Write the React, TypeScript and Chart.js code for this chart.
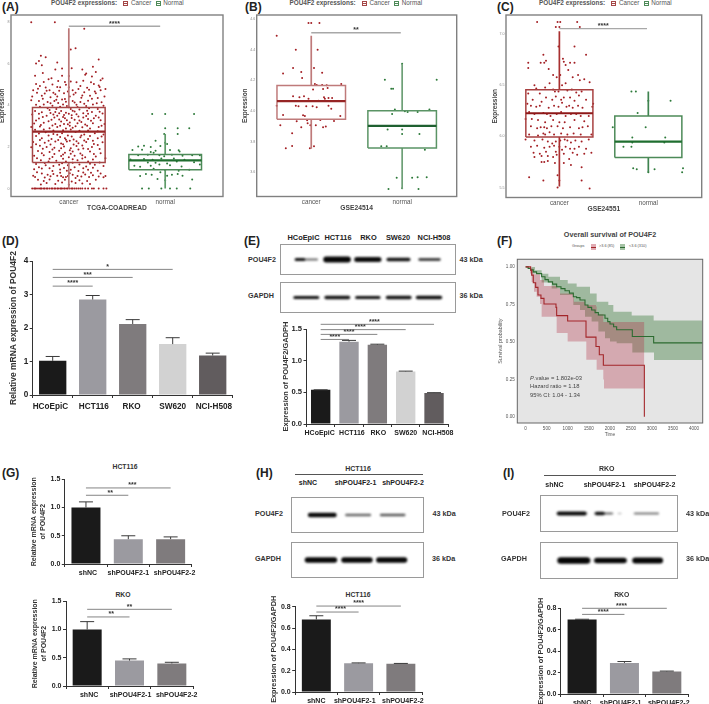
import React, { useEffect, useRef } from "react";
import { Chart, registerables } from "chart.js";
Chart.register(...registerables);

const SANS = "'Liberation Sans', Arial, sans-serif";

// ---------- panels A–C: tumour / normal expression (x, y pairs)
const boxLabels = ["cancer", "normal"];

const aCancerZeroX = [.62,.64,.65,.66,.68,.7,.71,.72,.74,.75,.77,.78,.8,.82,.83,.85,.86,.88,.89,.91,.92,.93,.95,.96,.98,.99,1.01,1.03,1.04,1.06,1.08,1.1,1.12,1.14,1.17,1.2,1.24,1.26,1.31,1.36,1.39];
const aCancerPts = [.61,7.98,.855,7.98,1.16,7.67,1.07,6.73,1.02,6.68,.71,6.38,.76,6.3,1.31,6.2,.69,6.12,.66,6,.88,6.05,.72,5.92,.86,5.72,.93,5.76,1.03,5.78,1.14,5.72,1.25,5.85,1.28,5.6,.73,5.55,.65,5.42,1.18,5.52,.93,5.42,1.17,5.46,1.24,5.38,1,5.4,.82,5.3,.79,5.25,1.33,5.2,.74,5.12,.89,5.16,.96,5.12,1.02,5.14,1.08,5.1,1.15,5.18,1.23,5.1,1.35,5.28,.66,5.02,.83,5,.97,4.98,1.26,5.02,1.31,4.95,1.32,4.88,.7,4.92,.76,4.85,.88,4.88,1,4.86,1.12,4.92,1.19,4.84,.63,4.72,.8,4.72,.9,4.7,1.04,4.72,1.1,4.78,1.21,4.74,1.33,4.72,1.38,4.78,.67,4.6,.75,4.56,.84,4.6,.95,4.58,1.07,4.6,1.16,4.62,1.28,4.58,.62,4.42,.72,4.46,.81,4.38,.88,4.42,.93,4.27,.87,4.26,.96,4.3,1.01,4.42,1.13,4.36,1.22,4.45,1.3,4.35,1.37,4.42,.61,4.24,.69,4.2,.78,4.16,.85,4.2,1.04,4.2,1.12,4.15,1.2,4.22,1.34,4.14,.66,4.02,.74,4.04,.83,3.98,.94,4.04,1,3.9,.98,3.96,1.08,4.02,1.18,3.96,1.25,4.04,1.36,3.97,.78,3.86,.87,3.82,.92,3.72,.86,3.67,.84,3.56,.88,3.5,1.02,3.82,1.11,3.8,1.21,3.86,1.3,3.82,.65,3.72,.72,3.66,.97,3.64,1.06,3.7,1.15,3.62,1.24,3.68,1.35,3.6,.62,3.56,.77,3.5,.94,3.44,1.03,3.52,1.1,3.46,1.18,3.48,1.28,3.5,.69,3.36,.82,3.3,.9,3.32,.98,3.28,1.06,3.3,1.13,3.2,1.2,3.34,1.33,3.28,.64,3.12,.74,3.16,.86,3.1,.95,3.1,1.01,3.02,1.09,3.14,1.17,3.08,1.25,3.14,1.37,3.1,.61,2.95,.7,2.98,.8,2.9,.88,2.96,.97,2.88,1.04,2.92,1.14,2.94,1.22,2.88,1.31,2.96,.76,2.7,.84,2.62,.93,2.66,.99,2.55,1.07,2.72,1.16,2.6,1.27,2.66,1.36,2.6,.66,2.52,.72,2.42,.82,2.38,.91,2.48,.96,2.42,.97,2.34,1.05,2.36,1.12,2.46,1.2,2.38,1.3,2.42,.63,2.24,.75,2.2,.86,2.26,.92,2.16,.98,2.26,1.1,2.18,1.18,2.24,1.26,2.14,1.35,2.22,.61,1.98,.7,2.06,.77,2,.85,1.96,.95,2.02,1.02,1.94,1.08,2.04,1.15,1.92,1.24,2,1.32,1.9,.68,1.8,.8,1.76,.9,1.82,.96,1.72,1.04,1.78,1.12,1.68,1.22,1.78,1.33,1.7,.64,1.58,.74,1.6,.83,1.52,.92,1.56,1,1.5,1.06,1.58,1.17,1.5,1.28,1.54,1.38,1.46,.71,1.36,.79,1.3,.87,1.34,.97,1.3,1.09,1.36,1.2,1.3,.66,1.18,.76,1.12,.84,1.08,.9,1.14,.99,1.12,1.11,1.16,1.18,1.06,1.27,1.14,1.36,1.08,.64,.93,.72,.96,.83,.84,.91,.92,.98,.86,1.02,.9,1.1,.84,1.2,.9,1.3,.86,.63,.62,.65,.55,.72,.72,.78,.66,.84,.7,.88,.62,.92,.6,.94,.54,.97,.56,.99,.6,1.04,.66,1.09,.6,1.13,.58,1.17,.68,1.21,.56,1.25,.64,1.31,.58,1.36,.54,1.38,.6,.68,.42,.74,.36,.8,.44,.89,.38,.96,.42,1.03,.34,1.11,.4,1.19,.36,1.28,.42,.71,.2,.86,.22,1,.18,1.14,.24];
const aCancerExtra = [.68,4.79,.77,4.69,.86,4.53,.91,4.86,.99,4.66,1.05,4.51,1.14,4.47,1.24,4.31,1.27,4.66,.73,4.31,.81,4.09,.89,4.11,.97,4.17,1.06,4.13,1.16,4.07,1.29,4.09,.7,3.93,.8,3.77,.91,3.93,1.04,3.73,1.09,3.91,1.19,3.73,1.32,3.69,.69,3.59,.81,3.63,.9,3.61,.95,3.53,1,3.59,1.08,3.57,1.2,3.59,1.31,3.41,.73,3.43,.85,3.41,.96,3.37,1.03,3.39,1.15,3.41,1.26,3.37,.66,3.27,.79,3.23,.92,3.22,1.01,3.17,1.11,3.27,1.23,3.25,.71,3.05,.83,3.03,.91,3.01,.99,3.09,1.07,2.99,1.19,3.01,1.34,3.01,.65,2.82,.74,2.84,.84,2.79,.94,2.8,1.02,2.83,1.11,2.78,1.2,2.79,1.3,2.75,.69,2.64,.79,2.55,.88,2.58,1.03,2.5,1.13,2.55,1.22,2.52,1.34,2.5,.7,2.33,.79,2.29,.89,2.33,1.01,2.3,1.08,2.27,1.16,2.31,1.25,2.3,.66,2.13,.81,2.11,.94,2.13,1.05,2.12,1.14,2.07,1.3,2.09,.73,1.91,.83,1.87,.92,1.93,1.01,1.84,1.1,1.87,1.2,1.9,.72,1.69,.85,1.66,.94,1.64,1.02,1.67,1.14,1.6,1.26,1.66,.67,1.45,.8,1.43,.94,1.43,1.04,1.41,1.14,1.44,1.25,1.4,.75,1.23,.93,1.22,1.04,1.24,1.22,1.19,1.32,1.25,.69,1.02,.8,.97,.95,.99,1.06,1.02,1.15,.97,1.25,1,.67,.78,.75,.53,.81,.59,.91,.76,1.01,.74,1.07,.51,1.15,.77,1.23,.76,1.33,.72,.77,.27,.93,.29,1.07,.27,1.22,.22];
const aNormalPts = [1.865,3.58,2,3.58,2.3,3.58,2,2.9,2.13,2.9,2.25,2.9,1.99,2.62,2.13,2.62,1.9,2.3,2,2.2,1.72,2.02,1.78,2.06,1.85,2,1.95,2.04,2.02,2.14,1.66,1.85,1.76,1.86,1.9,1.82,2.05,1.85,2.14,1.84,2.15,1.78,1.85,1.75,1.88,1.72,1.72,1.6,1.82,1.62,1.94,1.6,1.99,1.55,2.07,1.62,2.18,1.58,2.28,1.6,2.36,1.6,1.64,1.4,1.78,1.42,1.87,1.38,1.96,1.44,2.09,1.44,2.2,1.38,1.82,1.25,1.9,1.24,2.02,1.2,2.12,1.3,2.3,1.26,1.68,1.1,1.74,1.05,1.85,1.1,1.94,1.16,2.05,1.12,2.17,1.06,2.36,1.15,1.88,.95,2,.88,2.14,.85,2.25,.9,1.8,.7,1.86,.66,1.95,.78,2.02,.62,2.07,.66,2.13,.7,2.18,.62,1.74,.6,1.92,.46,2.28,.44,2,.4,1.76,0,1.83,0,1.96,0,2.05,0,2.12,0,2.26,0];

const bCancerPts = [.97,4.574,1,4.574,1.09,4.574,.62,4.49,.83,4.4,1.07,4.4,.8,4.28,1.03,4.28,.69,4.245,.89,4.254,1.12,4.25,.9,4.215,1.04,4.176,1.06,4.17,1.12,4.17,1.17,4.168,1.33,4.176,1.02,4.14,1.13,4.144,1.18,4.15,.8,4.097,.87,4.09,.92,4.097,.97,4.08,1.14,4.09,1.15,4.08,1.19,4.085,1.23,4.085,1.08,4.067,.83,4.034,.86,4.032,.945,4.032,1.015,4.032,1.06,4.024,1.19,4.034,.62,4.034,.69,3.974,.91,3.972,.93,3.968,1.22,4.015,1.32,3.968,.84,3.933,.955,3.94,1.1,3.942,1.25,3.935,.66,3.908,.96,3.92,.89,3.895,.99,3.908,1.05,3.908,1.13,3.895,1.16,3.9,.79,3.856,.79,3.772,.72,3.757,.985,3.757,1.03,3.77];
const bNormalPts = [1.81,4.204,2.38,4.204,1.88,4.146,1.9,4.146,2,4.308,1.92,4.01,2.03,3.998,2.06,3.994,2.17,3.994,2.3,4.01,1.89,3.98,1.84,3.88,2,3.88,2,3.85,2.19,3.85,1.77,3.77,1.83,3.77,2.25,3.748,1.94,3.565,2.11,3.565,2.17,3.568,2.27,3.568,1.85,3.492,2,3.497,2.18,3.492];

const cCancerPts = [.75,7.12,.98,7.12,1.2,7.12,.96,7.07,1,7.07,1.01,7.12,1.23,7.07,.99,6.88,1.17,6.88,.82,6.8,1.3,6.8,.65,6.72,.65,6.67,.79,6.72,.83,6.72,.85,6.74,1.04,6.76,1.05,6.73,1.07,6.7,1.12,6.72,1.17,6.72,.88,6.66,.93,6.6,.97,6.58,1.01,6.6,1.1,6.65,1.15,6.58,1.21,6.6,1.23,6.55,1.28,6.56,1.34,6.53,.72,6.5,.74,6.47,.78,6.42,.84,6.48,.89,6.52,.93,6.46,.95,6.44,.99,6.44,1.03,6.5,1.07,6.52,1.09,6.45,1.14,6.46,1.19,6.43,1.25,6.44,.65,6.42,.7,6.36,.8,6.34,.85,6.38,.92,6.36,.96,6.39,1.02,6.36,1.05,6.38,1.12,6.38,1.17,6.35,1.22,6.4,1.3,6.36,1.38,6.32,.64,6.32,.68,6.3,.74,6.29,.78,6.3,.88,6.28,.94,6.3,.99,6.29,1.03,6.33,1.08,6.29,1.11,6.3,1.15,6.28,1.21,6.3,1.26,6.28,1.37,6.29,.66,6.24,.72,6.22,.82,6.23,.86,6.22,.9,6.2,.97,6.22,1.02,6.24,1.07,6.2,1.13,6.22,1.19,6.22,1.24,6.2,1.33,6.2,.62,6.17,.69,6.17,.76,6.16,.84,6.14,.93,6.16,1,6.14,1.06,6.14,1.17,6.16,1.28,6.15,.68,6.1,.75,6.08,.79,6.09,.83,6.09,.86,6.08,.91,6.1,.98,6.1,1.04,6.08,1.12,6.09,1.22,6.08,1.26,6.09,1.32,6.1,.66,6.02,.76,6.01,.82,6.03,.84,6.02,.89,6.04,.94,6.02,1.02,6.03,1.09,6.02,1.16,6.03,1.24,6.02,1.36,6.02,.62,5.97,.72,5.96,.81,5.97,.87,5.95,.92,5.93,.96,5.95,1.01,5.96,1.06,5.97,1.09,5.96,1.13,5.94,1.18,5.96,1.25,5.95,1.33,5.97,.68,5.9,.75,5.91,.83,5.89,.89,5.9,.94,5.91,1,5.9,1.03,5.87,1.07,5.9,1.12,5.88,1.17,5.88,1.22,5.9,1.3,5.88,.71,5.84,.78,5.83,.85,5.85,.96,5.85,1.05,5.83,1.15,5.84,1.28,5.83,1.36,5.84,.72,5.8,.8,5.81,.87,5.81,.93,5.8,.97,5.82,1.11,5.78,1.2,5.82,.8,5.75,.83,5.75,.87,5.76,.95,5.74,1.05,5.74,1.13,5.72,1.25,5.7,.66,5.6,.82,5.57,.98,5.62,1,5.57,1.25,5.57,1.34,5.49,.98,5.5];
const cNormalPts = [1.81,6.44,1.86,6.44,2,6.35,2.25,6.35,1.88,6.23,1.6,6.09,1.97,6.09,1.82,5.99,2.19,5.99,1.82,5.94,2.18,5.94,1.72,5.9,1.81,5.9,1.83,5.69,1.87,5.68,2,5.65,2.07,5.68,2.39,5.69,2.38,5.65];

// box statistics: low whisker, Q1, median, Q3, high whisker
const aCancerBox = [0, 1.25, 2.73, 3.89, 7.7];
const aNormalBox = [0, .9, 1.35, 1.63, 2.62];
const bCancerBox = [3.755, 3.946, 4.065, 4.166, 4.49];
const bNormalBox = [3.492, 3.759, 3.903, 4.002, 4.308];
const cCancerBox = [5.51, 5.994, 6.227, 6.456, 7.03];
const cNormalBox = [5.65, 5.795, 5.95, 6.2, 6.44];

// ---------- bar panels
const cellLines = ["HCoEpiC", "HCT116", "RKO", "SW620", "NCI-H508"];
const shLabels = ["shNC", "shPOU4F2-1", "shPOU4F2-2"];
const dValues = [1.02, 2.85, 2.12, 1.52, 1.18];
const dErrTops = [1.15, 2.97, 2.25, 1.71, 1.25];
const eValues = [.54, 1.3, 1.25, .83, .49];
const eErrTops = [.54, 1.32, 1.26, .835, .495];
const gTopValues = [1, .44, .44];
const gTopErrTops = [1.1, .5, .48];
const gBotValues = [1, .45, .4];
const gBotErrTops = [1.14, .48, .42];
const hValues = [.68, .27, .265];
const hErrTops = [.715, .273, .268];
const iValues = [.695, .29, .21];
const iErrTops = [.698, .303, .214];
const greys = ["#1a1a1a", "#9b9aa0", "#7f7b7d", "#d2d2d2", "#615c5e"];

// ---------- panel F: Kaplan-Meier (time, survival)
const kmTimes = [0, 500, 1000, 1500, 2000, 2500, 3000, 3500, 4000];
const redCurve = [[0,1],[119,.978],[143,.945],[182,.894],[238,.863],[293,.812],[364,.79],[436,.752],[721,.73],[737,.675],[998,.639],[1434,.531],[1671,.469],[1750,.414],[1846,.343],[2820,.343],[2820,0]];
const redUpper = [[0,1],[103,.989],[182,.951],[341,.912],[436,.872],[752,.856],[816,.823],[1133,.812],[1148,.768],[1410,.746],[1671,.735],[1687,.684],[1845,.633],[2820,.633]];
const redLower = [[0,1],[103,.956],[143,.9],[198,.834],[261,.801],[341,.752],[380,.668],[737,.558],[998,.502],[1441,.381],[1687,.314],[1845,.248],[1861,.188],[2820,.188]];
const greenCurve = [[0,1],[60,.99],[120,.98],[182,.967],[260,.955],[380,.934],[460,.915],[539,.9],[640,.885],[737,.867],[840,.855],[935,.841],[1040,.825],[1133,.801],[1210,.795],[1291,.779],[1410,.746],[1480,.73],[1568,.712],[1650,.695],[1727,.679],[1885,.657],[1950,.635],[2004,.619],[2090,.6],[2162,.58],[2480,.58],[2534,.535],[3041,.493],[4206,.493]];
const greenUpper = [[0,1],[222,.978],[380,.955],[539,.934],[816,.912],[1000,.89],[1212,.867],[1529,.823],[1687,.768],[1964,.746],[2083,.701],[2519,.675],[3041,.642],[4206,.642]];
const greenLower = [[0,1],[143,.956],[380,.896],[618,.856],[816,.812],[1133,.746],[1291,.712],[1410,.668],[1568,.635],[1727,.569],[1885,.524],[2004,.502],[2162,.491],[2534,.429],[3049,.378],[4206,.378]];

// ---------- blots: [lane start %, lane end %, band thickness, colour]
const ePou = [[8.7,13.1,3,"#111"],[13.1,20.7,2,"#666"],[26,38.4,6,"#060606"],[43.5,56.3,5,"#0c0c0c"],[61.6,73.4,3.5,"#111"],[79.7,91,2.6,"#222"]];
const eGapdh = [[8,21.1,3.2,"#111"],[25.9,38.8,3.4,"#111"],[43.5,56.3,3.2,"#111"],[61.2,74.1,3.4,"#111"],[78.5,91.6,3.6,"#0b0b0b"]];
const hPou = [[13.8,32.4,4.5,"#0a0a0a"],[41.5,59.5,2.4,"#666"],[68,85.7,2.4,"#555"]];
const hGapdh = [[11.8,32.4,5.5,"#070707"],[39.7,59.5,5.5,"#070707"],[66.3,85.9,5.5,"#070707"]];
const iPou = [[13.1,32.1,4.2,"#0a0a0a"],[40.7,45.6,3.5,"#111"],[45.6,52.2,2.2,"#666"],[56.9,58.6,1.5,"#bbb"],[69,86,2.2,"#777"]];
const iGapdh = [[14.4,33.8,6.5,"#050505"],[41,61,5.5,"#070707"],[69.3,87.5,6,"#050505"]];

const pairs = (flat) => {
  const out = [];
  for (let i = 0; i < flat.length; i += 2) out.push({ x: flat[i], y: flat[i + 1] });
  return out;
};
const xy = (rows) => rows.map(([x, y]) => ({ x, y }));

function makeOverlay(s) {
  return {
    id: "overlay",
    beforeDraw(chart) {
      if (!s.bg) return;
      const { ctx, chartArea: a } = chart;
      ctx.save();
      ctx.fillStyle = s.bg;
      ctx.fillRect(a.left, a.top, a.right - a.left, a.bottom - a.top);
      ctx.restore();
    },
    afterDatasetsDraw(chart) {
      const { ctx, chartArea: a, scales } = chart;
      const sx = scales.x, sy = scales.y;
      ctx.save();
      (s.errTops || []).forEach((top, i) => {
        const x = sx.getPixelForValue(i), y0 = sy.getPixelForValue(s.values[i]), y1 = sy.getPixelForValue(top);
        ctx.strokeStyle = "#3a3a3a";
        ctx.lineWidth = 1;
        ctx.beginPath();
        ctx.moveTo(x, y0); ctx.lineTo(x, y1);
        ctx.moveTo(x - 7, y1); ctx.lineTo(x + 7, y1);
        ctx.stroke();
      });
      (s.brackets || []).forEach(([x0, x1, v, label, dx]) => {
        const y = sy.getPixelForValue(v), p0 = sx.getPixelForValue(x0), p1 = sx.getPixelForValue(x1);
        ctx.strokeStyle = s.bracketColor || "#666";
        ctx.lineWidth = s.bracketWidth || 0.8;
        ctx.beginPath(); ctx.moveTo(p0, y); ctx.lineTo(p1, y); ctx.stroke();
        ctx.fillStyle = "#333";
        ctx.font = `bold 7px ${SANS}`;
        ctx.textAlign = "center";
        ctx.textBaseline = "middle";
        ctx.fillText(label, (p0 + p1) / 2 + (dx || 0), y - 2.6);
      });
      if (s.frame) {
        ctx.strokeStyle = s.frame;
        ctx.lineWidth = s.frameWidth || 1.4;
        ctx.strokeRect(a.left, a.top, a.right - a.left, a.bottom - a.top);
      }
      ctx.restore();
    },
  };
}

const font = (size, weight) => ({ size, weight, family: SANS });

function geom(s) {
  const lh = s.yTitleSize * (s.yTitleLH || 1.2);
  const lines = Array.isArray(s.yTitle) ? s.yTitle.length : 1;
  const wantLeft = s.titleX - (lines * lh) / 2;
  const left = Math.floor(wantLeft);
  const T = s.padTop ?? 8;
  const top = Math.floor(s.plot.t - T);
  const W = s.plot.l - left;
  const topPad = s.plot.t - top;
  const R = 12;
  const H = s.bottomH;
  const width = Math.ceil(W + s.plot.r - s.plot.l + R);
  const height = Math.ceil(topPad + s.plot.b - s.plot.t + H);
  return { left, top, W, H, topPad, R: width - W - (s.plot.r - s.plot.l), width, height, lh, titleInset: wantLeft - left };
}

function baseScales(s, g) {
  return {
    y: {
      min: s.yMin, max: s.yMax,
      afterFit: (sc) => { sc.width = g.W; },
      ticks: {
        stepSize: s.yStep, includeBounds: false, padding: s.yPad ?? 1.5,
        color: s.yTickColor, font: font(s.yTickSize, s.tickWeight),
        callback: (v) => Number(v).toFixed(s.yDec),
      },
      title: {
        display: true, text: s.yTitle, color: s.titleColor || "#333", padding: { top: g.titleInset, bottom: 0 },
        font: { ...font(s.yTitleSize, s.yTitleWeight ?? "bold"), lineHeight: s.yTitleLH || 1.2 },
      },
    },
  };
}

function boxConfig(s) {
  const g = geom(s);
  const scat = (data, color) => ({ type: "scatter", data, pointRadius: 1, pointBackgroundColor: color, pointBorderWidth: 0, showLine: false });
  const seg = (data, color, w) => ({ type: "scatter", data, showLine: true, borderColor: color, borderWidth: w, pointRadius: 0, fill: false });
  const box = (cx, st, c) => {
    const [lo, q1, med, q3, hi] = st;
    const hw = s.halfW;
    return [
      seg([{ x: cx - hw, y: med }, { x: cx + hw, y: med }], c.med, 2.2),
      seg([{ x: cx - hw, y: q1 }, { x: cx + hw, y: q1 }, { x: cx + hw, y: q3 }, { x: cx - hw, y: q3 }, { x: cx - hw, y: q1 }], c.box, 1.5),
      seg([{ x: cx, y: q3 }, { x: cx, y: hi }], c.wh, 1.7),
      seg([{ x: cx, y: lo }, { x: cx, y: q1 }], c.wh, 1.7),
    ];
  };
  const scales = baseScales(s, g);
  scales.x = {
    type: "linear", min: .4, max: 2.6,
    afterFit: (sc) => { sc.height = g.H; },
    grid: { display: false, drawTicks: false }, border: { display: false },
    ticks: {
      stepSize: 1, includeBounds: false, padding: 1.5, color: "#555", font: font(6.3, "normal"),
      autoSkip: false, maxRotation: 0,
      callback: (v) => boxLabels[v - 1] ?? "",
    },
    title: { display: true, text: s.xTitle, color: "#444", padding: 0, font: font(6.7, "bold") },
  };
  scales.y.grid = { display: false, drawTicks: false };
  scales.y.border = { display: false };
  return {
    type: "scatter",
    data: {
      datasets: [
        ...box(1, s.cancerBox, s.red),
        ...box(2, s.normalBox, s.green),
        scat(s.cancerPts, "#a31f24"),
        scat(s.normalPts, "#2d7a3a"),
      ],
    },
    options: chartOptions(s, g, scales),
    plugins: [makeOverlay(s)],
  };
}

function chartOptions(s, g, scales) {
  return {
    responsive: false, animation: false, maintainAspectRatio: false,
    layout: { padding: { top: g.topPad, right: g.R, left: 0, bottom: 0 } },
    plugins: { legend: { display: false }, tooltip: { enabled: false } },
    scales,
  };
}

// nudges a tick label sideways the way the figure's hand-set labels sit, with non-breaking spaces
function nudged(label, shift, size) {
  const n = Math.round((2 * Math.abs(shift)) / (0.278 * size));
  const pad = "\u00A0".repeat(n);
  return shift >= 0 ? pad + label : label + pad;
}

function barConfig(s) {
  const g = geom(s);
  const scales = baseScales(s, g);
  scales.y.grid = { drawOnChartArea: false, drawTicks: true, tickLength: 3, color: "#333" };
  scales.y.border = { color: "#333", width: 1 };
  scales.x = {
    type: "category",
    afterFit: (sc) => { sc.height = g.H; },
    grid: { drawOnChartArea: false, drawTicks: true, tickLength: 3, color: "#333" },
    border: { color: "#333", width: 1 },
    ticks: {
      padding: s.xPad ?? 2, color: "#222", font: font(s.xTickSize, "bold"), autoSkip: false, maxRotation: 0,
      callback: (_v, i) => nudged(s.cats[i], (s.labelShift || [])[i] || 0, s.xTickSize),
    },
  };
  return {
    type: "bar",
    data: {
      labels: s.cats,
      datasets: [{ data: s.values, backgroundColor: s.colors, barPercentage: s.barFrac, categoryPercentage: 1, borderWidth: 0 }],
    },
    options: chartOptions(s, g, scales),
    plugins: [makeOverlay(s)],
  };
}

function kmConfig(s) {
  const g = geom(s);
  const scales = baseScales(s, g);
  scales.y.grid = { display: false, drawTicks: false };
  scales.y.border = { display: false };
  scales.x = {
    type: "linear", min: -198, max: 4206,
    afterFit: (sc) => { sc.height = g.H; },
    afterBuildTicks: (sc) => { sc.ticks = kmTimes.map((value) => ({ value })); },
    grid: { display: false, drawTicks: false }, border: { display: false },
    ticks: { padding: 2.5, color: "#555", font: font(4.6, "normal"), autoSkip: false, maxRotation: 0, callback: (v) => String(v) },
    title: { display: true, text: "Time", color: "#555", padding: 0, font: font(4.8, "normal") },
  };
  const line = (rows, color) => ({ type: "scatter", data: xy(rows), showLine: true, stepped: true, borderColor: color, borderWidth: 1.1, pointRadius: 0, fill: false });
  const band = (rows, fill, toNext) => ({ type: "scatter", data: xy(rows), showLine: true, stepped: true, borderWidth: 0, borderColor: "transparent", pointRadius: 0, fill: toNext ? "+1" : false, backgroundColor: fill });
  return {
    type: "scatter",
    data: {
      datasets: [
        line(redCurve, "#a3262a"),
        line(greenCurve, "#2c6b30"),
        band(redUpper, "rgba(178,44,66,0.32)", true),
        band(redLower, "rgba(178,44,66,0.32)", false),
        band(greenUpper, "rgba(56,120,56,0.4)", true),
        band(greenLower, "rgba(56,120,56,0.4)", false),
      ],
    },
    options: chartOptions(s, g, scales),
    plugins: [makeOverlay(s)],
  };
}

function blotConfig(bands) {
  return {
    type: "scatter",
    data: {
      datasets: bands.map(([a, b, w, c]) => ({
        data: [{ x: a, y: 50 }, { x: b, y: 50 }],
        showLine: true, borderColor: c, borderWidth: w, borderCapStyle: "round", pointRadius: 0,
      })),
    },
    options: {
      responsive: false, animation: false,
      plugins: { legend: { display: false }, tooltip: { enabled: false } },
      scales: { x: { display: false, min: 0, max: 100 }, y: { display: false, min: 0, max: 100 } },
    },
  };
}

function Plot({ spec, build }) {
  const ref = useRef(null);
  const g = geom(spec);
  useEffect(() => {
    const c = new Chart(ref.current, build(spec));
    return () => c.destroy();
  }, []);
  return <canvas ref={ref} width={g.width} height={g.height} style={{ position: "absolute", left: g.left, top: g.top, width: g.width, height: g.height }} />;
}

function Blot({ x, y, w, h, bands }) {
  const ref = useRef(null);
  useEffect(() => {
    const c = new Chart(ref.current, blotConfig(bands));
    return () => c.destroy();
  }, []);
  return (
    <div style={{ position: "absolute", left: x, top: y, width: w, height: h, border: "1px solid #9a9a9a", background: "#fff", overflow: "hidden", boxSizing: "border-box" }}>
      <canvas ref={ref} width={w - 2} height={h - 2} style={{ display: "block", width: w - 2, height: h - 2, filter: "blur(1px)" }} />
    </div>
  );
}

function T({ x, y, s, size = 8, bold = true, color = "#222", anchor = "c", italic = false }) {
  const tx = anchor === "c" ? "-50%" : anchor === "r" ? "-100%" : "0";
  return (
    <div style={{ position: "absolute", left: x, top: y, transform: `translate(${tx},-50%)`, fontFamily: SANS, fontSize: size, fontWeight: bold ? 700 : 400, fontStyle: italic ? "italic" : "normal", color, lineHeight: 1, whiteSpace: "nowrap" }}>{s}</div>
  );
}

function Key({ x, y, c, w = 5, h = 5, fill = "transparent" }) {
  return (
    <div style={{ position: "absolute", left: x, top: y - h / 2, width: w, height: h, boxSizing: "border-box", border: `1px solid ${c}`, background: fill }}>
      <div style={{ position: "absolute", left: 0, right: 0, top: h / 2 - 1.5, height: 1, background: c }} />
    </div>
  );
}

function Line({ x1, x2, y, c = "#555" }) {
  return <div style={{ position: "absolute", left: x1, top: y, width: x2 - x1, height: 1, background: c }} />;
}

const redA = { box: "#a54646", wh: "#bb7777", med: "#962525" };
const greenA = { box: "#4d8a58", wh: "#5f9b69", med: "#1f6e2f" };
const redB = { box: "#bf7a7a", wh: "#bf7a7a", med: "#962525" };
const greenB = { box: "#5a9465", wh: "#6ea077", med: "#1f6030" };
const redC = { box: "#a84040", wh: "#a83030", med: "#8e1818" };
const greenC = { box: "#4d8a58", wh: "#3f8350", med: "#1f6e2f" };

const boxCommon = { yTitle: "Expression", yTitleSize: 6.4, titleColor: "#444", yTickSize: 3.6, yTickColor: "#888", tickWeight: "normal", frame: "#808080", halfW: .377, bottomH: 15.5, padTop: 2, bracketColor: "#a8a8a8", bracketWidth: 1.4 };

const specA = { ...boxCommon, plot: { l: 11, t: 13, r: 223, b: 196 }, titleX: 2.7, yMin: -.38, yMax: 8.33, yStep: 2, yDec: 0, xTitle: "TCGA-COADREAD", cancerPts: [...pairs(aCancerPts), ...pairs(aCancerExtra), ...aCancerZeroX.map((x) => ({ x, y: 0 }))], normalPts: pairs(aNormalPts), cancerBox: aCancerBox, normalBox: aNormalBox, red: redA, green: greenA, brackets: [[1, 1.948, 7.79, "****"]] };
const specB = { ...boxCommon, plot: { l: 256.7, t: 13, r: 456.7, b: 196 }, titleX: 245.7, yMin: 3.443, yMax: 4.626, yStep: .2, yDec: 1, xTitle: "GSE24514", cancerPts: pairs(bCancerPts), normalPts: pairs(bNormalPts), cancerBox: bCancerBox, normalBox: bNormalBox, red: redB, green: greenB, brackets: [[1, 1.985, 4.51, "**"]] };
const specC = { ...boxCommon, plot: { l: 506, t: 13.3, r: 701.7, b: 196.7 }, titleX: 495, yMin: 5.403, yMax: 7.188, yStep: .5, yDec: 1, xTitle: "GSE24551", cancerPts: pairs(cCancerPts), normalPts: pairs(cNormalPts), cancerBox: cCancerBox, normalBox: cNormalBox, red: redC, green: greenC, brackets: [[1, 1.985, 7.055, "****"]] };

const barCommon = { yMin: 0, yTickColor: "#222", tickWeight: "bold", bottomH: 16, padTop: 10 };
const specD = { ...barCommon, plot: { l: 32.7, t: 261, r: 232.7, b: 394.7 }, titleX: 13.3, yMax: 4, yStep: 1, yDec: 0, yTitle: "Relative mRNA expression of POU4F2", yTitleSize: 8.5, yTickSize: 8.2, xTickSize: 8.2, xPad: 4, labelShift: [-2, 1, -1, 0, 1.3], cats: cellLines, values: dValues, errTops: dErrTops, colors: greys, barFrac: .683, brackets: [[0, 1, 3.25, "****"], [0, 2, 3.51, "***", -5], [0, 3, 3.75, "*", -5]] };
const specE = { ...barCommon, plot: { l: 306.5, t: 329, r: 448.2, b: 423.3 }, titleX: 285.7, yMax: 1.5, yStep: .5, yDec: 1, yTitle: "Expression of POU4F2/GADPH", yTitleSize: 7.5, yTickSize: 7.6, xTickSize: 7, xPad: 2, labelShift: [-1.2, 2.7, .7, 0, 4], cats: cellLines, values: eValues, errTops: eErrTops, colors: greys, barFrac: .683, brackets: [[0, 1, 1.335, "****"], [0, 2, 1.415, "****"], [0, 3, 1.49, "****", -3], [0, 4, 1.574, "****", -3]] };
const specF = { plot: { l: 517.3, t: 257.3, r: 702.7, b: 422.3 }, titleX: 500.7, yMin: -.042, yMax: 1.051, yStep: .25, yDec: 2, yTitle: "Survival probability", yTitleSize: 5.4, yTitleWeight: "normal", titleColor: "#555", yTickSize: 4.6, yTickColor: "#555", tickWeight: "normal", yPad: 2.5, bottomH: 15, padTop: 3, bg: "#e5e5e5", frame: "#666666", frameWidth: 1 };
const shCommon = { ...barCommon, yTickSize: 7, xTickSize: 7, cats: shLabels, colors: greys, barFrac: .685, padTop: 15, bottomH: 14 };
const specGTop = { ...shCommon, plot: { l: 64.8, t: 479.3, r: 191.8, b: 564 }, titleX: 38.8, yMax: 1.5, yStep: .5, yDec: 1, yTitle: ["Relative mRNA expression", "of POU4F2"], yTitleSize: 7, yTitleLH: 1.3, labelShift: [1.8, 0, 4.3], values: gTopValues, errTops: gTopErrTops, brackets: [[0, 1, 1.217, "**", 3], [0, 2, 1.347, "***", 4]] };
const specGBot = { ...shCommon, plot: { l: 66, t: 601.3, r: 193, b: 686 }, titleX: 39.8, yMax: 1.5, yStep: .5, yDec: 1, yTitle: ["Relative mRNA expression", "of POU4F2"], yTitleSize: 7, yTitleLH: 1.3, labelShift: [1.8, 1, 5], values: gBotValues, errTops: gBotErrTops, brackets: [[0, 1, 1.223, "**", 3], [0, 2, 1.358, "**"]] };
const specH = { ...shCommon, plot: { l: 295.2, t: 606.7, r: 422, b: 691.7 }, titleX: 274, yMax: .8, yStep: .2, yDec: 1, yTitle: "Expression of POU4F2/GAPDH", yTitleSize: 7.3, labelShift: [0, -3.5, 1.8], values: hValues, errTops: hErrTops, brackets: [[0, 1, .75, "****", 3], [0, 2, .806, "****"]] };
const specI = { ...shCommon, plot: { l: 560.9, t: 608.3, r: 688, b: 693.3 }, titleX: 540.7, yMax: .8, yStep: .2, yDec: 1, yTitle: "Expression of POU4F2/GAPDH", yTitleSize: 7.3, labelShift: [0, -3.5, 2], values: iValues, errTops: iErrTops, brackets: [[0, 1, .743, "****"], [0, 2, .8, "****", -3]] };

function BoxLegend({ x0 }) {
  return (
    <>
      <T x={x0} y={3.2} s="POU4F2 expressions:" size={6.4} color="#555" anchor="l" />
      <Key x={x0 + 72} y={3.2} c="#a54646" />
      <T x={x0 + 80} y={3.2} s="Cancer" size={6.3} bold={false} color="#555" anchor="l" />
      <Key x={x0 + 104.7} y={3.2} c="#4d8a58" />
      <T x={x0 + 112.3} y={3.2} s="Normal" size={6.3} bold={false} color="#555" anchor="l" />
    </>
  );
}

export default function App() {
  return (
    <div style={{ position: "absolute", left: 0, top: 0, width: 709, height: 704, overflow: "hidden", background: "#fff", filter: "blur(0.4px)" }}>
      <T x={2} y={7} s="(A)" size={12} anchor="l" />
      <T x={245} y={7} s="(B)" size={12} anchor="l" />
      <T x={497} y={7} s="(C)" size={12} anchor="l" />
      <T x={2} y={240.7} s="(D)" size={12} anchor="l" />
      <T x={244} y={240.7} s="(E)" size={12} anchor="l" />
      <T x={497} y={240.7} s="(F)" size={12} anchor="l" />
      <T x={2} y={472.7} s="(G)" size={12} anchor="l" />
      <T x={256} y={472.7} s="(H)" size={12} anchor="l" />
      <T x={503} y={472.7} s="(I)" size={12} anchor="l" />

      <BoxLegend x0={51} />
      <BoxLegend x0={289.5} />
      <BoxLegend x0={539} />
      <Plot spec={specA} build={boxConfig} />
      <Plot spec={specB} build={boxConfig} />
      <Plot spec={specC} build={boxConfig} />

      <Plot spec={specD} build={barConfig} />

      {cellLines.map((c, i) => (
        <T key={c} x={[303.5, 338, 368.5, 398, 434][i]} y={237.5} s={c} size={7.4} />
      ))}
      <Blot x={280} y={244} w={176} h={31} bands={ePou} />
      <Blot x={280} y={282} w={176} h={31} bands={eGapdh} />
      <T x={248} y={260} s="POU4F2" size={7.2} color="#333" anchor="l" />
      <T x={248} y={295.5} s="GAPDH" size={7.2} color="#333" anchor="l" />
      <T x={459.5} y={260} s="43 kDa" size={7.2} color="#333" anchor="l" />
      <T x={459.5} y={295.5} s="36 kDa" size={7.2} color="#333" anchor="l" />
      <Plot spec={specE} build={barConfig} />

      <T x={610} y={235} s="Overall survival of POU4F2" size={7.2} color="#444" />
      <T x={572} y={247} s="Groups" size={3.8} bold={false} color="#555" anchor="l" />
      <div style={{ position: "absolute", left: 590.5, top: 244, width: 5.5, height: 6, background: "rgba(178,44,66,0.4)" }}><div style={{ height: 1, marginTop: 2.5, background: "#a3262a" }} /></div>
      <T x={599} y={247} s=">3.6 (85)" size={3.8} bold={false} color="#555" anchor="l" />
      <div style={{ position: "absolute", left: 619.5, top: 244, width: 5.5, height: 6, background: "rgba(56,120,56,0.45)" }}><div style={{ height: 1, marginTop: 2.5, background: "#2c6b30" }} /></div>
      <T x={629} y={247} s="<3.6 (310)" size={3.8} bold={false} color="#555" anchor="l" />
      <Plot spec={specF} build={kmConfig} />
      <div style={{ position: "absolute", left: 530, top: 373.5, fontFamily: SANS, fontSize: 5.8, lineHeight: "8.7px", color: "#444", whiteSpace: "nowrap" }}>
        <div><i>P</i>.value = 1.802e-03</div>
        <div>Hazard ratio = 1.18</div>
        <div>95% CI: 1.04 - 1.34</div>
      </div>

      <T x={125} y={467} s="HCT116" size={6.8} color="#333" />
      <Plot spec={specGTop} build={barConfig} />
      <T x={123} y={595} s="RKO" size={6.8} color="#333" />
      <Plot spec={specGBot} build={barConfig} />

      <T x={358} y={467.7} s="HCT116" size={7} color="#333" />
      <Line x1={295} x2={422.7} y={474} />
      <T x={308} y={482} s="shNC" size={7} color="#222" />
      <T x={355.5} y={482} s="shPOU4F2-1" size={7} color="#222" />
      <T x={403} y={482} s="shPOU4F2-2" size={7} color="#222" />
      <Blot x={290.5} y={497} w={133} h={36} bands={hPou} />
      <Blot x={290.5} y={542} w={133} h={36} bands={hGapdh} />
      <T x={255} y={514.3} s="POU4F2" size={7.2} color="#333" anchor="l" />
      <T x={255} y={559} s="GAPDH" size={7.2} color="#333" anchor="l" />
      <T x={432.5} y={514.3} s="43 kDa" size={7.2} color="#333" anchor="l" />
      <T x={432} y={559} s="36 kDa" size={7.2} color="#333" anchor="l" />
      <T x={358} y={595} s="HCT116" size={6.8} color="#333" />
      <Plot spec={specH} build={barConfig} />

      <T x={606.7} y={468} s="RKO" size={7} color="#333" />
      <Line x1={544} x2={676} y={475} />
      <T x={554.5} y={483.7} s="shNC" size={7} color="#222" />
      <T x={604.5} y={483.7} s="shPOU4F2-1" size={7} color="#222" />
      <T x={654.5} y={483.7} s="shPOU4F2-2" size={7} color="#222" />
      <Blot x={540} y={495} w={137.5} h={37} bands={iPou} />
      <Blot x={540} y={542} w={137.5} h={37} bands={iGapdh} />
      <T x={502} y={514.3} s="POU4F2" size={7.2} color="#333" anchor="l" />
      <T x={501} y={559} s="GAPDH" size={7.2} color="#333" anchor="l" />
      <T x={686} y={514.3} s="43 kDa" size={7.2} color="#333" anchor="l" />
      <T x={686} y={559} s="36 kDa" size={7.2} color="#333" anchor="l" />
      <T x={621.7} y={595} s="RKO" size={6.8} color="#333" />
      <Plot spec={specI} build={barConfig} />
    </div>
  );
}
